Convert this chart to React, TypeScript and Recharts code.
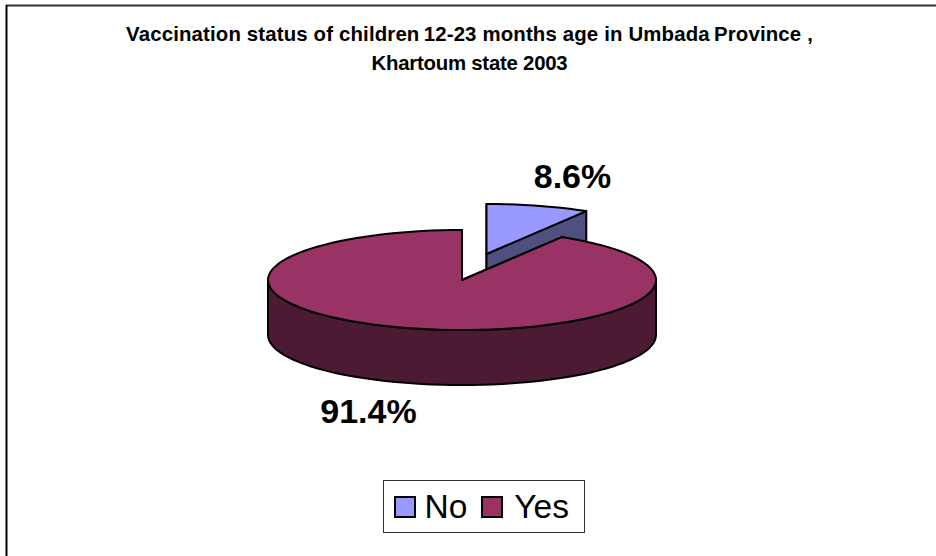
import { PieChart, Pie, Cell, Legend } from 'recharts';

const categories = ['No', 'Yes'];
const values = [8.6, 91.4];
const sliceColors = ['#9999ff', '#993366'];
const wallColors = ['#4f4f80', '#4d1a33'];
const titleLines = [
  'Vaccination status of children\u200912-23 months age in Umbada\u2009Province ,',
  'Khartoum state 2003',
];

const chartData = categories.map((name, i) => ({ name, value: values[i] }));

const FONT = '"Liberation Sans", Arial, sans-serif';
const SQUASH = 50 / 194;
const DEPTH = 55;
const RAD = Math.PI / 180;

// exploded offset of each slice, in px
const offsets = [
  { dx: 24.5, dy: -26 },
  { dx: 0, dy: 0 },
];
const labelPos = [
  { x: 572.5, y: 188 },
  { x: 368.5, y: 423 },
];
const titleSpacing = [0.15, -0.25];

function pt(cx: number, cy: number, r: number, deg: number) {
  return { x: cx + r * Math.cos(deg * RAD), y: cy - r * SQUASH * Math.sin(deg * RAD) };
}

// elliptical arc from angle a to angle b
function arcPath(cx: number, cy: number, r: number, a: number, b: number, dy = 0) {
  const steps = Math.max(2, Math.ceil(Math.abs(a - b) / 3));
  let d = '';
  for (let i = 0; i <= steps; i++) {
    const p = pt(cx, cy + dy, r, a + ((b - a) * i) / steps);
    d += `${i === 0 ? '' : 'L'}${p.x.toFixed(1)},${p.y.toFixed(1)} `;
  }
  return d;
}

function Slice3D(props: any) {
  const { cx, cy, outerRadius, startAngle, endAngle, index, fill } = props;
  const off = offsets[index] || { dx: 0, dy: 0 };
  const x = cx + off.dx;
  const y = cy + off.dy;
  const r = outerRadius;
  const stroke = { stroke: '#000', strokeWidth: 2, strokeLinejoin: 'round' as const };

  const start = pt(x, y, r, startAngle);
  const end = pt(x, y, r, endAngle);

  // rim of the visible lower half
  const lo = Math.max(Math.min(startAngle, endAngle), -180);
  const hi = Math.min(Math.max(startAngle, endAngle), 0);
  const hasRim = hi > lo;

  return (
    <g>
      {/* cut faces, the top surface hides whatever is not visible */}
      {[start, end].map((p, i) => (
        <path
          key={i}
          d={`M${x},${y} L${p.x},${p.y} L${p.x},${p.y + DEPTH} L${x},${y + DEPTH} Z`}
          fill={wallColors[index]}
          {...stroke}
        />
      ))}
      {hasRim && (
        <path
          d={`M${arcPath(x, y, r, hi, lo)} L${arcPath(x, y, r, lo, hi, DEPTH)} Z`}
          fill={wallColors[index]}
          {...stroke}
        />
      )}
      <path
        d={`M${x},${y} L${arcPath(x, y, r, startAngle, endAngle)} L${end.x},${end.y} Z`}
        fill={fill}
        {...stroke}
      />
    </g>
  );
}

function SliceLabel(props: any) {
  const { index, value } = props;
  const p = labelPos[index];
  return (
    <text x={p.x} y={p.y} textAnchor="middle" fontFamily={FONT} fontWeight="bold" fontSize={34} fill="#000">
      {value.toFixed(1)}%
    </text>
  );
}

function LegendBox({ payload }: any) {
  return (
    <div
      style={{
        width: 200,
        height: 51,
        border: '1.5px solid #333',
        background: '#fff',
        display: 'flex',
        alignItems: 'center',
        fontFamily: FONT,
        fontSize: 33.5,
        color: '#000',
        boxSizing: 'content-box',
      }}
    >
      {(payload || []).map((item: any, i: number) => (
        <span key={item.value} style={{ display: 'flex', alignItems: 'center', marginLeft: i === 0 ? 9.5 : 14 }}>
          <span
            style={{
              width: 18,
              height: 18,
              border: '2px solid #000',
              background: item.color,
              marginRight: i === 0 ? 9 : 11,
              display: 'inline-block',
            }}
          />
          {item.value}
        </span>
      ))}
    </div>
  );
}

export default function App() {
  return (
    <div style={{ position: 'absolute', left: 0, top: 0, width: 936, height: 556, background: '#fff' }}>
      <PieChart width={936} height={556} margin={{ top: 0, right: 0, bottom: 0, left: 0 }}>
        <line x1={6} y1={5.5} x2={936} y2={5.5} stroke="#333" strokeWidth={2} />
        <line x1={6.5} y1={5} x2={6.5} y2={556} stroke="#000" strokeWidth={2} />
        {titleLines.map((line, i) => (
          <text
            key={line}
            x={469.5}
            y={41 + i * 29}
            textAnchor="middle"
            fontFamily={FONT}
            fontWeight="bold"
            fontSize={20.4}
            letterSpacing={titleSpacing[i]}
            fill="#000"
          >
            {line}
          </text>
        ))}
        <Pie
          data={chartData}
          dataKey="value"
          nameKey="name"
          cx={462}
          cy={280}
          outerRadius={194}
          startAngle={90}
          endAngle={-270}
          paddingAngle={0}
          stroke="#000"
          shape={Slice3D}
          label={SliceLabel}
          labelLine={false}
          isAnimationActive={false}
        >
          {chartData.map((d, i) => (
            <Cell key={d.name} fill={sliceColors[i]} />
          ))}
        </Pie>
        <Legend
          content={<LegendBox />}
          layout="horizontal"
          align="left"
          verticalAlign="bottom"
          wrapperStyle={{ position: 'absolute', left: 383, top: 480, bottom: 'auto', width: 'auto' }}
        />
      </PieChart>
    </div>
  );
}
